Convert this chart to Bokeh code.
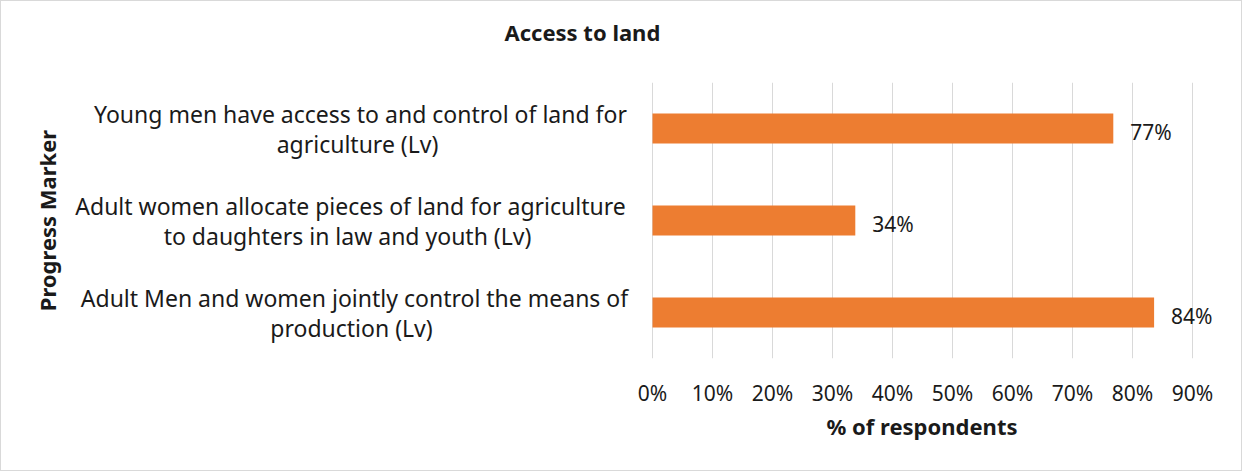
from bokeh.plotting import figure
from bokeh.models import ColumnDataSource, FactorRange, Range1d, FixedTicker, Label, NumeralTickFormatter, Title
from bokeh.embed import file_html
from bokeh.resources import INLINE

# ---- data ----
categories = [
    "Young men have access to and control of land for agriculture  (Lv)",
    "Adult women allocate pieces of land for agriculture to daughters in law and youth  (Lv)",
    "Adult Men and women jointly control the means of production  (Lv)",
]
label_lines = [
    ["Young men have access to and control of land for", "agriculture  (Lv)"],
    ["Adult women allocate pieces of land for agriculture", "to daughters in law and youth  (Lv)"],
    ["Adult Men and women jointly control the means of", "production  (Lv)"],
]
values = [0.768, 0.338, 0.836]
value_labels = ["77%", "34%", "84%"]
x_ticks = [0.0, 0.1, 0.2, 0.3, 0.4, 0.5, 0.6, 0.7, 0.8, 0.9]

TITLE = "Access to land"
X_TITLE = "% of respondents"
Y_TITLE = "Progress Marker"

FONT = "Noto Sans"
TXT = "#1a1a1a"
BAR = "#ED7D31"
GRID = "#D9D9D9"

# ---- layout (figure px) ----
W, H = 1242, 471
LEFT = 60                  # frame left (y title sits left of it)
AX0, AX90 = 651, 1191      # screen x of 0% and 90%
FRAME_T, FRAME_B = 81, 357
block_centres = [359, 349, 353]   # centres of category label blocks
px_per_unit = (AX90 - AX0) / x_ticks[-1]

factors = categories[::-1]
p = figure(
    width=W, height=H,
    y_range=FactorRange(*factors, range_padding=0),
    x_range=Range1d(-(AX0 - LEFT) / px_per_unit, (W - AX0) / px_per_unit),
    y_axis_location=None,
    output_backend="svg", toolbar_location=None,
    min_border_left=LEFT, min_border_right=0,
    min_border_top=FRAME_T, min_border_bottom=H - FRAME_B,
)
p.outline_line_color = None
p.background_fill_color = "white"
p.border_fill_color = "white"
p.styles = {"border": "1px solid #D9D9D9"}

src = ColumnDataSource(dict(cat=categories, val=values, lab=value_labels))
p.hbar(y="cat", right="val", left=0, height=0.326, source=src, fill_color=BAR, line_color=None)

def ypos(c):
    # synthetic coordinate of a factor's centre on the FactorRange
    return factors.index(c) + 0.5

# value labels
for c, v, t in zip(categories, values, value_labels):
    p.add_layout(Label(x=v, y=ypos(c), text=t, x_offset=17, y_offset=-3,
                       text_baseline="middle", text_align="left",
                       text_font=FONT, text_font_size="21px", text_color=TXT))

# category labels (two lines each, centred within block, block right-aligned)
for c, lines, cx in zip(categories, label_lines, block_centres):
    for i, t in enumerate(lines):
        p.add_layout(Label(x=0, y=ypos(c), text=t, x_offset=cx - AX0, y_offset=15 - 30 * i,
                           text_align="center", text_baseline="middle",
                           text_font=FONT, text_font_size="23px", text_color=TXT))

# x axis
xa = p.xaxis[0]
xa.ticker = FixedTicker(ticks=x_ticks)
xa.formatter = NumeralTickFormatter(format="0%")
xa.axis_line_color = None
xa.major_tick_line_color = None
xa.minor_tick_line_color = None
xa.major_tick_out = 0
xa.major_tick_in = 0
xa.major_label_standoff = 20
xa.major_label_text_font = FONT
xa.major_label_text_font_size = "21px"
xa.major_label_text_color = TXT

p.xgrid.grid_line_color = GRID
p.xgrid.grid_line_width = 1
p.ygrid.grid_line_color = None

# main title (trailing empty line lifts it above the frame)
p.title.text = TITLE + "\n"
p.title.align = "left"
p.title.offset = 503 - LEFT
p.title.standoff = 12
p.title.text_font = FONT
p.title.text_font_size = "22px"
p.title.text_font_style = "bold"
p.title.text_color = TXT

# x title below the tick labels, centred under 0..90%
p.add_layout(Title(text=X_TITLE, align="left", offset=825 - LEFT, standoff=2,
                   vertical_align="top",
                   text_font=FONT, text_font_size="22px", text_font_style="bold",
                   text_color=TXT), "below")

# y title at the left
p.add_layout(Title(text=Y_TITLE, align="center", standoff=0,
                   text_font=FONT, text_font_size="22px", text_font_style="bold",
                   text_color=TXT), "left")

open("out.html", "w").write(file_html(p, INLINE))
